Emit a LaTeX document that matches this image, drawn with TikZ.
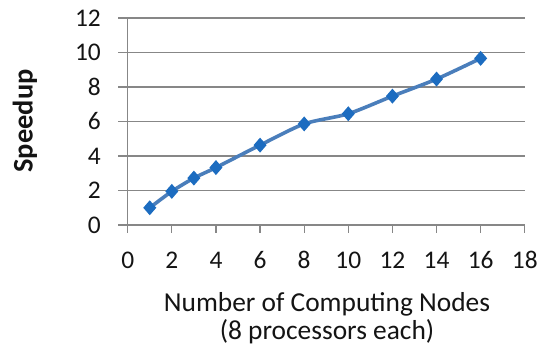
\documentclass[tikz,border=0pt]{standalone}
\usepackage{fontspec}
\setmainfont{Carlito}
\begin{document}
\begin{tikzpicture}[x=1bp,y=-1bp,
  grid/.style={draw=black!47,line width=1.3bp},
  series/.style={draw=seriesline,line width=3.6bp,line cap=round,line join=round},
  marker/.style={fill=seriesmark,draw=none},
  ticklabel/.style={font=\fontsize{25.5}{28}\selectfont,text=black!92,inner sep=0pt},
  axistitle/.style={font=\fontsize{27.5}{28}\selectfont,text=black!92,align=center,inner sep=0pt}]
\definecolor{seriesline}{HTML}{4A7EBB}
\definecolor{seriesmark}{HTML}{1C6CC0}
\useasboundingbox (0,0) rectangle (540,349);
% axis mapping: x0=127.7, 22.06 per unit; y0=225, 17.25 per unit
\def\xo{127.7}\def\xs{22.06}\def\yo{225}\def\ys{17.25}
% horizontal gridlines with left ticks, and y labels
\foreach \v in {0,2,...,12}{
  \draw[grid] (118,{\yo-\ys*\v}) -- (525,{\yo-\ys*\v});
  \node[ticklabel,anchor=east] (yl\v) at (101,{\yo-\ys*\v}) {\v};
}
% vertical axis
\draw[grid] (\xo,{\yo-\ys*12}) -- (\xo,233);
% x ticks and labels
\foreach \v in {0,2,...,18}{
  \draw[grid] ({\xo+\xs*\v},\yo) -- ({\xo+\xs*\v},233);
  \node[ticklabel,anchor=center] (xl\v) at ({\xo+\xs*\v},260) {\v};
}
% data series
\draw[series] plot[smooth,tension=0.45] coordinates {
  ({\xo+\xs*1},{\yo-\ys*1.0})
  ({\xo+\xs*2},{\yo-\ys*1.95})
  ({\xo+\xs*3},{\yo-\ys*2.72})
  ({\xo+\xs*4},{\yo-\ys*3.33})
  ({\xo+\xs*6},{\yo-\ys*4.63})
  ({\xo+\xs*8},{\yo-\ys*5.86})
  ({\xo+\xs*10},{\yo-\ys*6.45})
  ({\xo+\xs*12},{\yo-\ys*7.47})
  ({\xo+\xs*14},{\yo-\ys*8.46})
  ({\xo+\xs*16},{\yo-\ys*9.66})};
\foreach \px/\py in {1/1.0,2/1.95,3/2.72,4/3.33,6/4.63,8/5.86,10/6.45,12/7.47,14/8.46,16/9.66}{
  \fill[marker] ({\xo+\xs*\px},{\yo-\ys*\py}) +(0,-7.5) -- +(6.5,0) -- +(0,7.5) -- +(-6.5,0) -- cycle;
}
% axis titles
\node[axistitle] (xtitle) at (327,318) {Number of Computing Nodes\\(8 processors each)};
\node[axistitle,font=\fontsize{28.5}{30}\selectfont\bfseries,rotate=90] (ytitle) at (25,121) {Speedup};
\end{tikzpicture}
\end{document}
